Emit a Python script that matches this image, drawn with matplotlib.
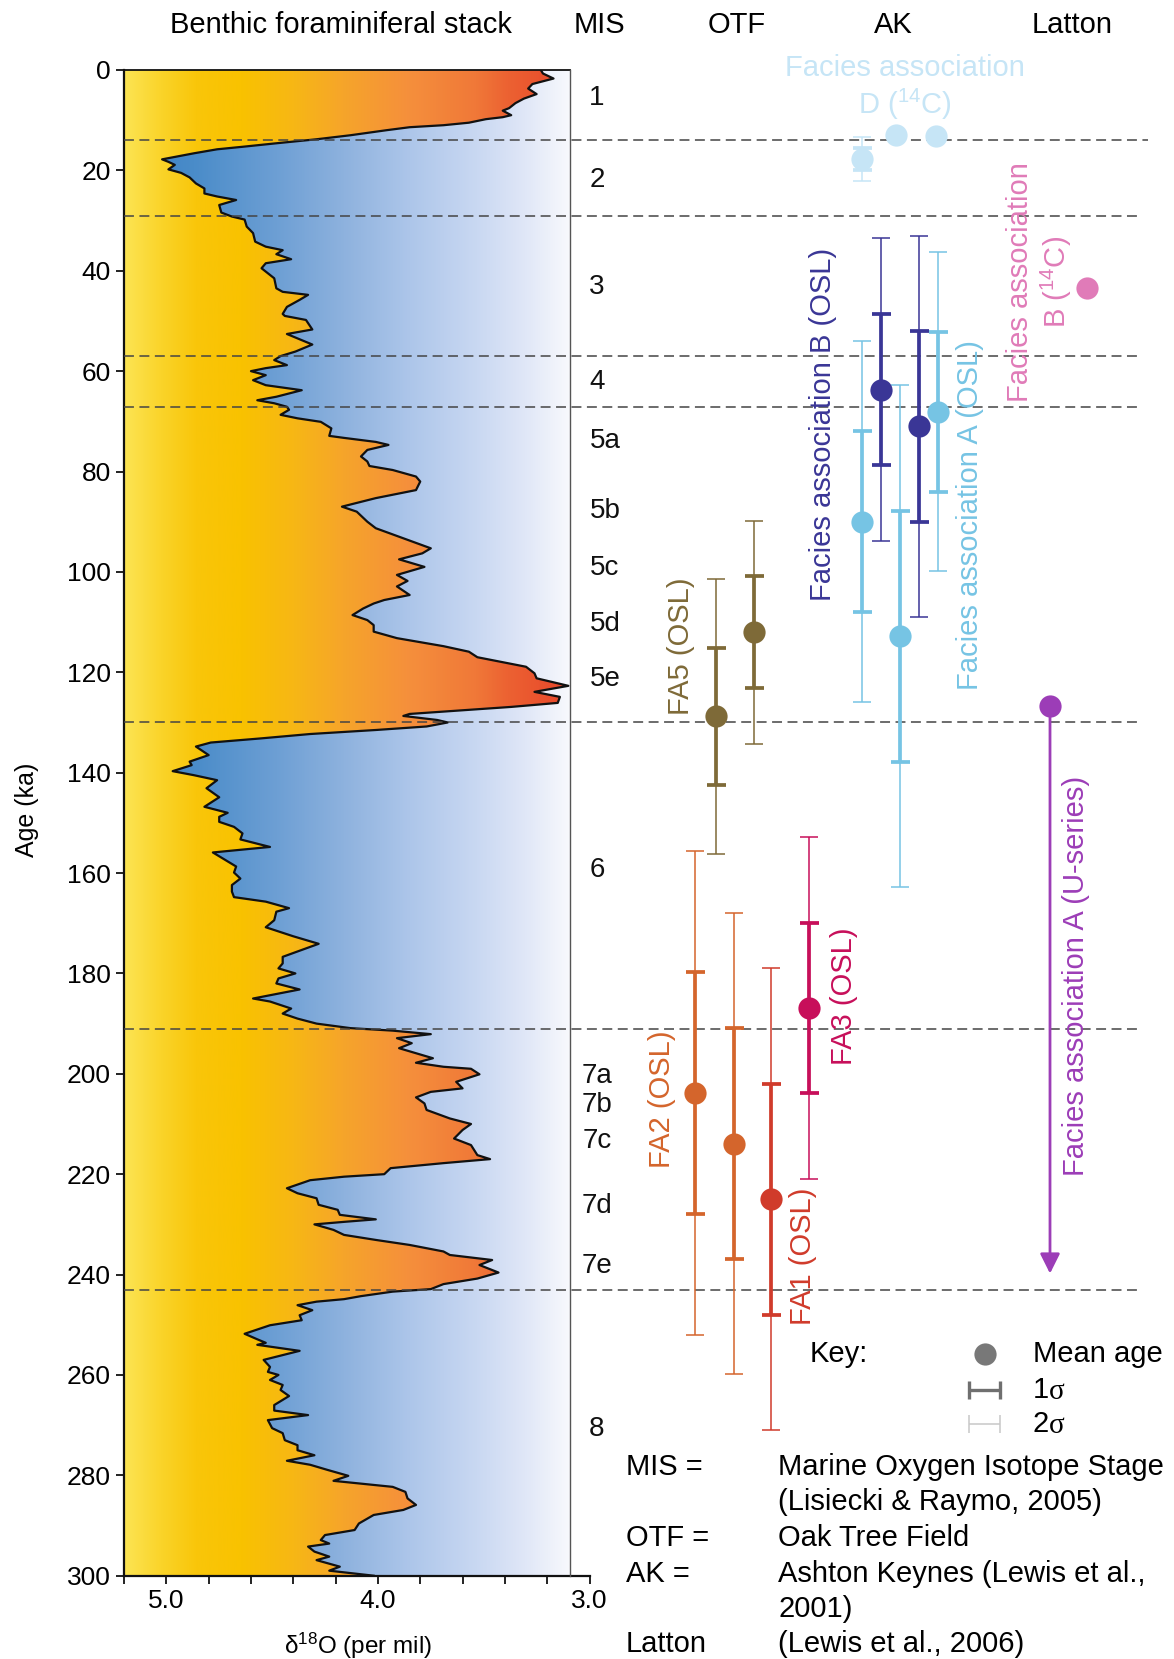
import numpy as np
import matplotlib
matplotlib.use('Agg')
import matplotlib.pyplot as plt
from matplotlib.colors import LinearSegmentedColormap
from matplotlib.patches import Polygon

plt.rcParams['font.family'] = ['Liberation Sans', 'DejaVu Sans']
plt.rcParams['mathtext.fontset'] = 'custom'
plt.rcParams['mathtext.rm'] = 'Liberation Sans'
plt.rcParams['mathtext.it'] = 'Liberation Sans:italic'
plt.rcParams['mathtext.default'] = 'regular'

# ---------------- data ----------------
stack_age = [0.0, 0.7, 1.7, 2.8, 3.7, 4.8, 5.7, 6.6, 7.6, 8.1, 9.0, 9.4, 9.8, 10.5, 11.0, 11.4, 12.0, 13.0,
             13.8, 14.6, 15.3, 15.8, 16.6, 17.4, 17.8, 18.3, 18.9, 19.8, 20.5, 21.4, 22.6, 23.6, 24.6, 25.2,
             25.9, 26.9, 28.4, 29.2, 29.8, 31.2, 32.5, 34.2, 35.2, 35.9, 36.7, 37.7, 38.5, 39.5, 40.5, 41.5,
             43.5, 44.2, 44.8, 45.8, 47.2, 48.6,
             49.0, 49.8, 51.7, 52.6, 54.7, 56.1, 57.0, 57.8, 58.8, 59.4, 60.0, 60.8, 61.8, 62.8, 63.8, 65.1,
             65.8, 66.4, 67.1, 67.7, 68.7, 69.4, 70.1, 71.4, 72.9, 73.3, 74.1, 74.7, 75.7, 77.0, 78.0, 78.9,
             79.7, 81.0, 82.0, 83.7, 85.3, 87.0, 88.0, 90.0, 91.3, 93.3, 95.3, 96.3, 97.5,
             99.0, 100.6, 101.8, 102.9, 104.6, 105.6, 106.3, 107.3, 108.6, 109.6, 110.6, 111.9, 113.2, 114.8,
             115.9, 117.0, 117.9, 118.9, 120.2, 121.2, 122.7, 123.9, 124.9, 126.1, 126.9, 128.3, 128.7, 129.5,
             130.0, 130.8, 131.5, 132.3, 133.2, 134.0, 134.8, 136.5, 137.8, 138.5, 139.7, 140.5, 141.5, 143.1,
             144.9, 146.8,
             148.0, 148.8, 149.8, 150.8, 152.1, 153.3, 154.8, 155.9, 158.7, 159.9, 161.1, 162.4, 163.7, 164.8,
             165.7, 167.0, 167.7, 169.4, 170.8, 172.6, 174.1, 176.7, 178.0, 179.0, 180.0, 181.0, 182.0, 183.2,
             185.0, 185.6, 187.0, 188.0, 189.0, 190.0, 190.9, 191.4, 192.1, 192.9, 193.9, 194.9, 196.9, 197.8,
             198.6, 199.0, 200.1,
             201.6, 202.9, 203.6, 204.7, 205.9, 207.2, 208.9, 210.0, 211.2, 212.9, 214.2, 216.2, 217.0, 217.8,
             218.8, 220.0, 220.5, 221.2, 222.8, 223.8, 224.8, 226.1, 227.1, 228.1, 229.0, 229.5, 230.0, 231.1,
             232.1, 233.1, 234.1, 235.4, 236.1, 237.1, 238.1, 239.6, 240.8, 241.9, 242.9, 243.4, 244.3, 244.9,
             245.4, 246.1,
             247.1, 248.1, 249.1, 250.1, 251.8, 252.9, 253.6, 254.0, 255.2, 257.0, 258.4, 259.4, 260.0, 261.0,
             262.0, 263.0, 264.2, 266.0, 267.1, 268.0, 269.0, 270.6, 271.6, 273.0, 274.0, 275.0, 276.0, 277.1,
             277.9, 278.9, 280.1, 281.1, 281.7, 282.3, 283.3, 284.6, 285.9, 286.9, 287.9, 289.6, 290.9, 291.9,
             292.9, 293.6, 294.2, 295.2, 296.2, 296.9, 298.2, 299.0, 300.0]
stack_d18o = [3.23, 3.22, 3.17, 3.27, 3.29, 3.25, 3.31, 3.35, 3.38, 3.41, 3.37, 3.41, 3.49, 3.57, 3.69, 3.85, 3.96, 4.13,
              4.29, 4.48, 4.64, 4.76, 4.87, 4.97, 5.02, 4.99, 4.96, 4.99, 4.93, 4.89, 4.86, 4.82, 4.82, 4.76,
              4.67, 4.75, 4.74, 4.69, 4.63, 4.62, 4.59, 4.58, 4.53, 4.45, 4.48, 4.41, 4.53, 4.55, 4.52, 4.49,
              4.48, 4.45, 4.33, 4.37, 4.43, 4.45,
              4.44, 4.34, 4.31, 4.43, 4.31, 4.39, 4.46, 4.49, 4.43, 4.53, 4.60, 4.53, 4.59, 4.53, 4.36, 4.48,
              4.57, 4.49, 4.43, 4.42, 4.46, 4.38, 4.27, 4.22, 4.23, 4.16, 4.01, 3.95, 4.05, 4.08, 4.05, 4.04,
              3.93, 3.82, 3.80, 3.82, 4.01, 4.17, 4.10, 4.05, 4.01, 3.88, 3.75, 3.79, 3.90,
              3.78, 3.91, 3.86, 3.91, 3.85, 3.97, 4.02, 4.07, 4.12, 4.05, 4.02, 4.02, 3.91, 3.69,
              3.57, 3.53, 3.42, 3.30, 3.26, 3.25, 3.10, 3.26, 3.14, 3.15, 3.37, 3.85, 3.88, 3.72,
              3.67, 3.77, 4.01, 4.32, 4.56, 4.79, 4.86, 4.80, 4.89, 4.88, 4.97, 4.87, 4.76, 4.81,
              4.75, 4.82,
              4.71, 4.75, 4.75, 4.68, 4.64, 4.65, 4.51, 4.78, 4.67, 4.68, 4.65, 4.69, 4.69, 4.68,
              4.53, 4.42, 4.48, 4.49, 4.53, 4.40, 4.28, 4.45, 4.45, 4.47, 4.39, 4.47, 4.48, 4.37,
              4.59, 4.51, 4.41, 4.45, 4.38, 4.29, 4.13, 3.93, 3.75, 3.91, 3.84, 3.90, 3.74, 3.82,
              3.69, 3.56, 3.52,
              3.63, 3.60, 3.75, 3.82, 3.78, 3.77, 3.66, 3.56, 3.60, 3.64, 3.56, 3.53, 3.47, 3.69,
              3.94, 3.97, 4.16, 4.32, 4.43, 4.38, 4.29, 4.28, 4.19, 4.18, 4.01, 4.16, 4.30, 4.21,
              4.16, 4.01, 3.85, 3.69, 3.66, 3.46, 3.52, 3.43, 3.53, 3.69, 3.75, 3.93, 4.08, 4.16,
              4.29, 4.38,
              4.31, 4.37, 4.36, 4.51, 4.63, 4.57, 4.53, 4.57, 4.37, 4.54, 4.51, 4.52, 4.47, 4.51,
              4.45, 4.46, 4.42, 4.49, 4.49, 4.33, 4.52, 4.50, 4.45, 4.44, 4.38, 4.38, 4.30, 4.43,
              4.32, 4.24, 4.14, 4.21, 4.07, 3.93, 3.87, 3.86, 3.82, 3.88, 4.02, 4.09, 4.11, 4.25,
              4.27, 4.23, 4.33, 4.30, 4.23, 4.29, 4.18, 4.23, 4.02]

mis_boundaries = [14, 29, 57, 67.2, 130, 191, 243]
mis_labels = ['1', '2', '3', '4', '5a', '5b', '5c', '5d', '5e', '6', '7a', '7b', '7c', '7d', '7e', '8']
mis_label_age = [5.6, 22.0, 43.2, 62.2, 74.0, 87.8, 99.2, 110.4, 121.3, 159.4, 200.5, 206.3, 213.3, 226.3, 238.2, 270.8]

# dated samples: column position, mean age (ka), 1 sigma (ka)
fa5_x, fa5_mean, fa5_sig = [716, 754], [128.8, 112.0], [13.7, 11.1]
fa2_x, fa2_mean, fa2_sig = [695, 734], [203.9, 213.9], [24.1, 23.0]
fa1_x, fa1_mean, fa1_sig = [771], [225.0], [23.0]
fa3_x, fa3_mean, fa3_sig = [809], [186.9], [17.0]
akA_x, akA_mean, akA_sig = [862, 900, 938], [90.0, 112.8, 68.1], [18.0, 25.0, 15.9]
akB_x, akB_mean, akB_sig = [881, 919], [63.7, 71.0], [15.1, 19.0]
akD_x, akD_mean, akD_sig = [862, 896, 936], [17.7, 12.9, 13.1], [2.2, 0.0, 0.0]
latB_x, latB_mean = [1087], [43.5]
latA_x, latA_mean, latA_min = [1050], [126.7], [239.8]

# ---------------- figure ----------------
W, H = 1174, 1659
fig = plt.figure(figsize=(W / 100, H / 100), dpi=100)
ax_left, ax_right, ax_top, ax_bot = 124, 589.5, 70, 1575.7
ax = fig.add_axes([ax_left / W, 1 - ax_bot / H, (ax_right - ax_left) / W, (ax_bot - ax_top) / H])

x_box = 3.09
warm = LinearSegmentedColormap.from_list('warm', [
    (0.0, '#fce453'), (0.08, '#fad42a'), (0.16, '#f9c60a'), (0.26, '#f9c200'), (0.38, '#f7b715'),
    (0.49, '#f6a52a'), (0.64, '#f58f3c'), (0.79, '#f07838'), (0.86, '#ec6232'), (1.0, '#e8452a')])
cool = LinearSegmentedColormap.from_list('cool', [
    (0.0, '#3a80c4'), (0.156, '#4a8cc9'), (0.341, '#6d9fd4'), (0.493, '#8eb2de'),
    (0.64, '#adc6ea'), (0.791, '#c9d8f2'), (0.9, '#e0e7f7'), (1.0, '#f8f9fd')])
xs = np.linspace(5.2, x_box, 800)
tt = (5.2 - xs) / (5.2 - x_box)

curve = np.column_stack([stack_d18o, stack_age])
poly_w = Polygon(np.vstack([[5.2, 0], curve, [5.2, 300]]), closed=True, transform=ax.transData,
                 facecolor='none', edgecolor='none')
poly_c = Polygon(np.vstack([[x_box, 0], curve, [x_box, 300]]), closed=True, transform=ax.transData,
                 facecolor='none', edgecolor='none')
ax.add_patch(poly_w)
ax.add_patch(poly_c)
im_w = ax.imshow(warm(tt)[None, :, :], extent=[5.2, x_box, 300, 0], aspect='auto',
                 interpolation='bilinear', zorder=1)
im_w.set_clip_path(poly_w)
im_c = ax.imshow(cool(tt)[None, :, :], extent=[5.2, x_box, 300, 0], aspect='auto',
                 interpolation='bilinear', zorder=1)
im_c.set_clip_path(poly_c)

ax.plot(stack_d18o, stack_age, color='#111111', lw=1.6, zorder=3, solid_joinstyle='round')
ax.plot([5.2, x_box], [0, 0], color='#111111', lw=1.3, zorder=3, clip_on=False)
ax.plot([x_box, x_box], [0, 300], color='#555555', lw=1.0, zorder=3, clip_on=False)

ax.set_xlim(5.2, 3.0)
ax.set_ylim(300, 0)
ax.spines['top'].set_visible(False)
ax.spines['right'].set_visible(False)
for s in ('left', 'bottom'):
    ax.spines[s].set_linewidth(1.6)
    ax.spines[s].set_color('#111111')
ax.set_yticks(np.arange(0, 301, 20))
ax.set_xticks([5.0, 4.0, 3.0])
ax.set_xticklabels(['5.0', '4.0', '3.0'])
ax.set_xticks([5.2, 4.8, 4.6, 4.4, 4.2, 3.8, 3.6, 3.4, 3.2], minor=True)
ax.tick_params(axis='both', which='both', direction='out', length=5.5, width=1.3, color='#111111',
               labelsize=19, pad=4)
ax.patch.set_alpha(0)

# ---------------- overlay in pixel / age coordinates ----------------
px_per_ka = (ax_bot - ax_top) / 300.0
ax2 = fig.add_axes([0, 0, 1, 1], zorder=5)
ax2.set_xlim(0, W)
ax2.set_ylim((H - ax_top) / px_per_ka, -ax_top / px_per_ka)
ax2.axis('off')
ax2.patch.set_alpha(0)

ax2.text(27, 147.5, 'Age (ka)', fontsize=18, rotation=90, ha='center', va='center')

for i, b in enumerate(mis_boundaries):
    ax2.plot([ax_left, 1148 if i == 0 else 1140], [b, b], color='#444444', lw=1.1,
             dashes=(6.5, 3.6), zorder=1)

FS = 21
for lab, a in zip(mis_labels, mis_label_age):
    xx = 605 if lab.startswith('5') else 597
    ax2.text(xx, a, lab, fontsize=20, ha='center', va='center', color='#111111')

hy = -9.0
ax2.text(341, hy, 'Benthic foraminiferal stack', fontsize=FS, ha='center', va='center')
ax2.text(599, hy, 'MIS', fontsize=FS, ha='center', va='center')
ax2.text(737, hy, 'OTF', fontsize=FS, ha='center', va='center')
ax2.text(893, hy, 'AK', fontsize=FS, ha='center', va='center')
ax2.text(1072, hy, 'Latton', fontsize=FS, ha='center', va='center')
ax2.text(358, (1646 - ax_top) / px_per_ka, r'$\delta^{18}$O (per mil)', fontsize=17.5,
         ha='center', va='center')


def draw_err(xl, ml, sl, color):
    for x, m, s in zip(xl, ml, sl):
        if s > 0:
            ax2.vlines(x, m - 2 * s, m + 2 * s, color=color, lw=1.1, zorder=3)
            ax2.hlines([m - 2 * s, m + 2 * s], x - 9, x + 9, color=color, lw=1.1, zorder=3)
            ax2.vlines(x, m - s, m + s, color=color, lw=2.7, zorder=3)
            ax2.hlines([m - s, m + s], x - 9.5, x + 9.5, color=color, lw=2.7, zorder=3)
        ax2.plot([x], [m], 'o', ms=16, color=color, mec='none', zorder=4)


c_fa5, c_fa2, c_fa1, c_fa3 = '#7e6a38', '#d4652c', '#d03b2b', '#c70f5a'
c_A, c_B, c_D = '#76c4e4', '#3a3696', '#c6e5f6'
c_latB, c_latA = '#e07bb8', '#9c3db7'

draw_err(fa5_x, fa5_mean, fa5_sig, c_fa5)
draw_err(fa2_x, fa2_mean, fa2_sig, c_fa2)
draw_err(fa1_x, fa1_mean, fa1_sig, c_fa1)
draw_err(fa3_x, fa3_mean, fa3_sig, c_fa3)
draw_err(akA_x, akA_mean, akA_sig, c_A)
draw_err(akB_x, akB_mean, akB_sig, c_B)
draw_err(akD_x, akD_mean, akD_sig, c_D)
draw_err(latB_x, latB_mean, [0], c_latB)
for x, m, mn in zip(latA_x, latA_mean, latA_min):
    ax2.annotate('', xy=(x, mn), xytext=(x, m),
                 arrowprops=dict(arrowstyle='-|>,head_length=0.6,head_width=0.3', color=c_latA,
                                 lw=2.0, shrinkA=0, shrinkB=0, mutation_scale=20), zorder=3)
draw_err(latA_x, latA_mean, [0], c_latA)

ax2.text(681, 114.9, 'FA5 (OSL)', color=c_fa5, fontsize=FS, rotation=90, ha='center', va='center')
ax2.text(823, 70.6, 'Facies association B (OSL)', color=c_B, fontsize=FS, rotation=90,
         ha='center', va='center')
ax2.text(970, 88.6, 'Facies association A (OSL)', color=c_A, fontsize=FS, rotation=90,
         ha='center', va='center')
ax2.text(905, 3.6, 'Facies association\nD ($^{14}$C)', color=c_D, fontsize=FS, ha='center',
         va='center', multialignment='center', linespacing=1.15)
ax2.text(1040, 42.3, 'Facies association\nB ($^{14}$C)', color=c_latB, fontsize=FS, rotation=90,
         ha='center', va='center', multialignment='center', linespacing=1.15)
ax2.text(1076, 180.6, 'Facies association A (U-series)', color=c_latA, fontsize=FS, rotation=90,
         ha='center', va='center')
ax2.text(662, 205.0, 'FA2 (OSL)', color=c_fa2, fontsize=FS, rotation=90, ha='center', va='center')
ax2.text(803, 236.4, 'FA1 (OSL)', color=c_fa1, fontsize=FS, rotation=90, ha='center', va='center')
ax2.text(844, 184.6, 'FA3 (OSL)', color=c_fa3, fontsize=FS, rotation=90, ha='center', va='center')

# key
ax2.text(810, 255.8, 'Key:', fontsize=FS, ha='left', va='center')
ax2.plot([985], [255.8], 'o', ms=16, color='#787878', mec='none')
ax2.text(1033, 255.8, 'Mean age', fontsize=FS, ha='left', va='center')
ax2.hlines(263.0, 969, 1000, color='#6f6f6f', lw=2.4)
ax2.vlines([969, 1000], 263.0 - 1.8, 263.0 + 1.8, color='#6f6f6f', lw=2.4)
ax2.hlines(269.8, 969, 1000, color='#c8c8c8', lw=1.1)
ax2.vlines([969, 1000], 269.8 - 1.8, 269.8 + 1.8, color='#c8c8c8', lw=1.1)
for a, d in ((263.0, '1'), (269.8, '2')):
    ax2.text(1033, a, d, fontsize=FS, ha='left', va='center')
    ax2.text(1049, a + 0.3, 'σ', fontsize=FS, ha='left', va='center', family=['Liberation Serif'])

leg_left = ['MIS =', '', 'OTF =', 'AK =', '', 'Latton']
leg_right = ['Marine Oxygen Isotope Stage', '(Lisiecki & Raymo, 2005)', 'Oak Tree Field',
             'Ashton Keynes (Lewis et al.,', '2001)', '(Lewis et al., 2006)']
leg_age = [278.3, 285.4, 292.4, 299.6, 306.7, 313.6]
for l, r, a in zip(leg_left, leg_right, leg_age):
    if l:
        ax2.text(625.5, a, l, fontsize=FS, ha='left', va='center')
    ax2.text(778, a, r, fontsize=FS, ha='left', va='center')

fig.savefig('out.png', dpi=100)
